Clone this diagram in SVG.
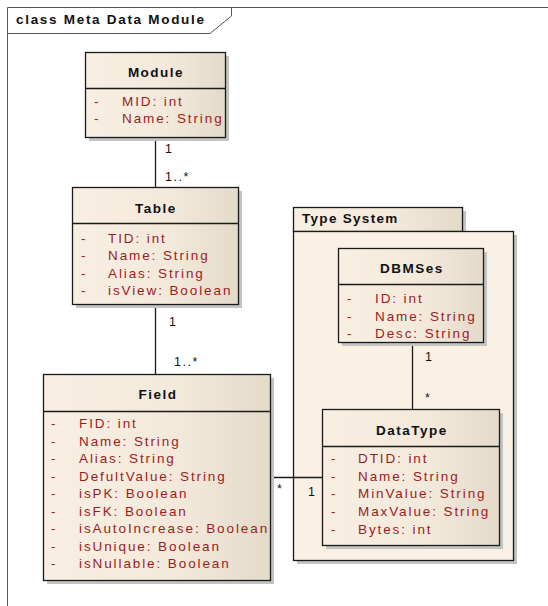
<svg xmlns="http://www.w3.org/2000/svg" width="548" height="606" viewBox="0 0 548 606">
<defs>
<linearGradient id="g" x1="0" y1="0" x2="1" y2="0">
<stop offset="0" stop-color="#F8EFE2"/>
<stop offset="0.6" stop-color="#F3E9DB"/>
<stop offset="1" stop-color="#E4DACA"/>
</linearGradient>
<style>
text{font-family:"Liberation Sans",Arial,sans-serif;}
.box{fill:url(#g);stroke:#1a1a1a;stroke-width:1.3;}
.sh{fill:#c4c4c4;}
.sep{stroke:#1a1a1a;stroke-width:1.3;}
.title{font-size:13.5px;font-weight:bold;fill:#111;letter-spacing:1.5px;text-anchor:middle;}
.attr{font-size:13.5px;fill:#9c1c1c;letter-spacing:1.9px;}
.lbl{font-size:12.5px;fill:#111;letter-spacing:1.5px;}
.con{stroke:#1a1a1a;stroke-width:1.3;fill:none;}
.frame{stroke:#555;stroke-width:1;fill:none;}
</style>
</defs>
<rect width="548" height="606" fill="#ffffff"/>
<g id="frame">
<path class="frame" d="M7.5,606 V7.5 H548"/>
<path class="frame" d="M7.5,33.5 H210 L231.5,16 V7.5"/>
<text x="16" y="24" style="font-size:13.5px;font-weight:bold;fill:#111;letter-spacing:1.7px">class Meta Data Module</text>
</g>
<g id="TypeSystem">
<rect class="sh" x="297" y="211" width="169" height="24"/>
<rect class="sh" x="297" y="235" width="220" height="329"/>
<rect x="293.5" y="207.5" width="169" height="24" fill="url(#g)" stroke="#1a1a1a" stroke-width="1.3"/>
<rect x="293.5" y="231.5" width="220" height="329" fill="#FAF0E3" stroke="#1a1a1a" stroke-width="1.3"/>
<text x="302" y="223" style="font-size:13.5px;font-weight:bold;fill:#111;letter-spacing:1.3px">Type System</text>
</g>
<g id="connectors">
<line class="con" x1="155.5" y1="137" x2="155.5" y2="187"/>
<line class="con" x1="155.5" y1="304" x2="155.5" y2="374"/>
<line class="con" x1="412.5" y1="342" x2="412.5" y2="409"/>
<line class="con" x1="270" y1="477.5" x2="322" y2="477.5"/>
<text class="lbl" x="165" y="153">1</text>
<text class="lbl" x="165" y="181">1..*</text>
<text class="lbl" x="169" y="326">1</text>
<text class="lbl" x="174" y="366">1..*</text>
<text class="lbl" x="425" y="361">1</text>
<text class="lbl" x="425" y="402">*</text>
<text class="lbl" x="277" y="493">*</text>
<text class="lbl" x="308" y="496">1</text>
</g>
<g id="Module">
<rect class="sh" x="89" y="56" width="140" height="85"/>
<rect class="box" x="85.5" y="52.5" width="140" height="85"/>
<line class="sep" x1="85.5" y1="88.5" x2="225.5" y2="88.5"/>
<text class="title" x="156" y="77">Module</text>
<text class="attr" x="94" y="106">-</text><text class="attr" x="122" y="106">MID: int</text>
<text class="attr" x="94" y="123">-</text><text class="attr" x="122" y="123">Name: String</text>
</g>
<g id="Table">
<rect class="sh" x="76" y="191" width="166" height="117"/>
<rect class="box" x="72.5" y="187.5" width="166" height="117"/>
<line class="sep" x1="72.5" y1="223.5" x2="238.5" y2="223.5"/>
<text class="title" x="156" y="213">Table</text>
<text class="attr" x="81" y="243">-</text><text class="attr" x="108" y="243">TID: int</text>
<text class="attr" x="81" y="260">-</text><text class="attr" x="108" y="260">Name: String</text>
<text class="attr" x="81" y="278">-</text><text class="attr" x="108" y="278">Alias: String</text>
<text class="attr" x="81" y="295">-</text><text class="attr" x="108" y="295">isView: Boolean</text>
</g>
<g id="Field">
<rect class="sh" x="47" y="378" width="227" height="206"/>
<rect class="box" x="43.5" y="374.5" width="227" height="206"/>
<line class="sep" x1="43.5" y1="411.5" x2="270.5" y2="411.5"/>
<text class="title" x="158" y="399">Field</text>
<text class="attr" x="51" y="428">-</text><text class="attr" x="79" y="428">FID: int</text>
<text class="attr" x="51" y="446">-</text><text class="attr" x="79" y="446">Name: String</text>
<text class="attr" x="51" y="463">-</text><text class="attr" x="79" y="463">Alias: String</text>
<text class="attr" x="51" y="481">-</text><text class="attr" x="79" y="481">DefultValue: String</text>
<text class="attr" x="51" y="498">-</text><text class="attr" x="79" y="498">isPK: Boolean</text>
<text class="attr" x="51" y="516">-</text><text class="attr" x="79" y="516">isFK: Boolean</text>
<text class="attr" x="51" y="533">-</text><text class="attr" x="79" y="533">isAutoIncrease: Boolean</text>
<text class="attr" x="51" y="551">-</text><text class="attr" x="79" y="551">isUnique: Boolean</text>
<text class="attr" x="51" y="568">-</text><text class="attr" x="79" y="568">isNullable: Boolean</text>
</g>
<g id="DBMSes">
<rect class="sh" x="342" y="252" width="145" height="94"/>
<rect class="box" x="338.5" y="248.5" width="145" height="94"/>
<line class="sep" x1="338.5" y1="284.5" x2="483.5" y2="284.5"/>
<text class="title" x="412" y="273">DBMSes</text>
<text class="attr" x="347" y="303">-</text><text class="attr" x="375" y="303">ID: int</text>
<text class="attr" x="347" y="321">-</text><text class="attr" x="375" y="321">Name: String</text>
<text class="attr" x="347" y="338">-</text><text class="attr" x="375" y="338">Desc: String</text>
</g>
<g id="DataType">
<rect class="sh" x="326" y="413" width="177" height="136"/>
<rect class="box" x="322.5" y="409.5" width="177" height="136"/>
<line class="sep" x1="322.5" y1="446.5" x2="499.5" y2="446.5"/>
<text class="title" x="412" y="435">DataType</text>
<text class="attr" x="331" y="463">-</text><text class="attr" x="358" y="463">DTID: int</text>
<text class="attr" x="331" y="481">-</text><text class="attr" x="358" y="481">Name: String</text>
<text class="attr" x="331" y="498">-</text><text class="attr" x="358" y="498">MinValue: String</text>
<text class="attr" x="331" y="516">-</text><text class="attr" x="358" y="516">MaxValue: String</text>
<text class="attr" x="331" y="534">-</text><text class="attr" x="358" y="534">Bytes: int</text>
</g>
</svg>
